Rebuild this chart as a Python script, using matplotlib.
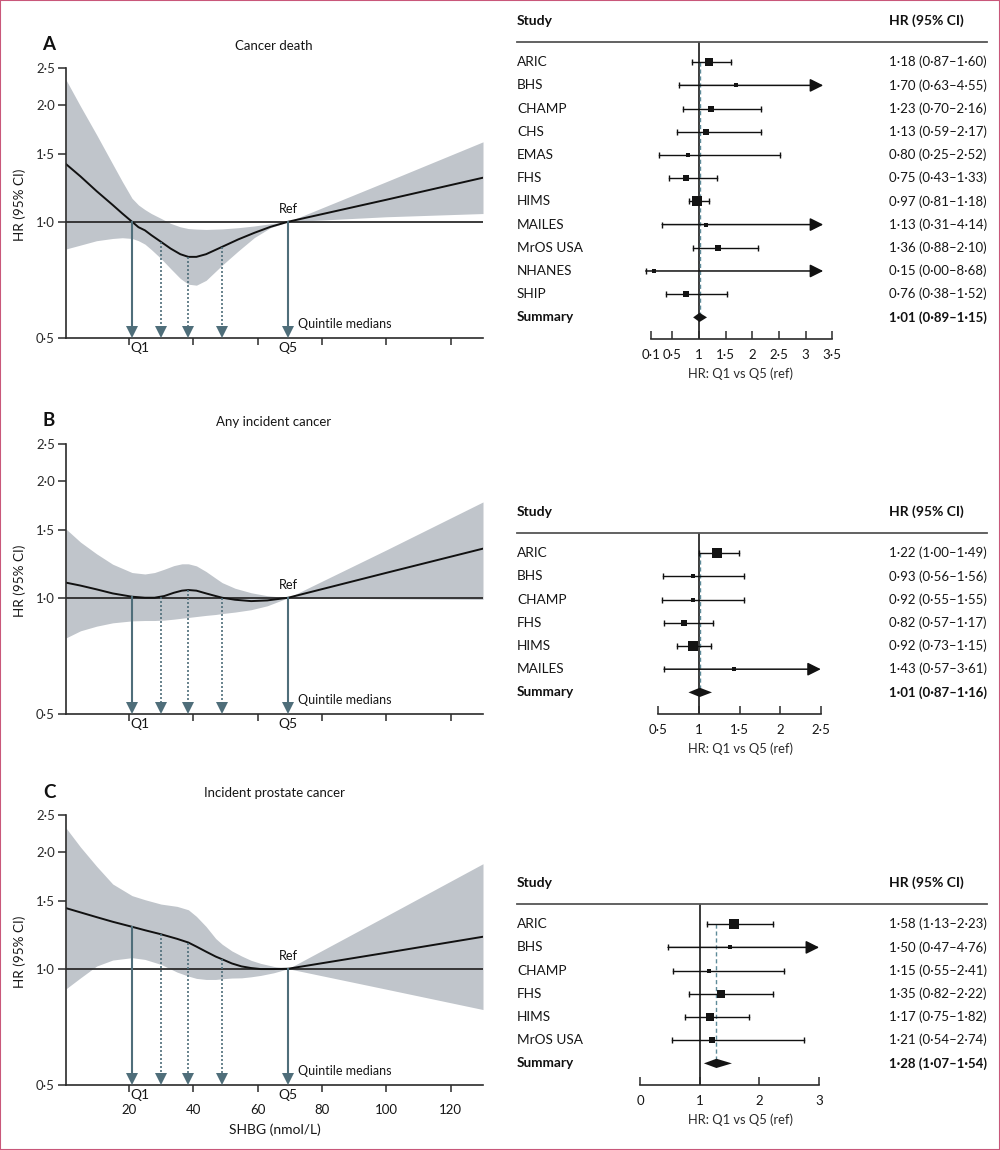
import matplotlib
matplotlib.use("Agg")
import matplotlib.pyplot as plt
from matplotlib.transforms import blended_transform_factory, offset_copy
from matplotlib.patches import Rectangle
import numpy as np

plt.rcParams['font.family'] = ['Lato', 'DejaVu Sans']

# ---- spline curves (SHBG vs HR) ----
shbg_a = [0.5, 5, 10, 15, 18, 21, 23, 25, 27, 30, 33, 36, 38.5, 41, 44, 49, 54, 59, 64, 69.5, 100, 130]
hr_a = [1.41, 1.31, 1.20, 1.105, 1.05, 1.0, 0.968, 0.95, 0.923, 0.887, 0.852, 0.824, 0.811, 0.811,
        0.824, 0.861, 0.90, 0.936, 0.97, 1.0, 1.14, 1.30]
hi_a = [2.33, 1.99, 1.68, 1.41, 1.27, 1.15, 1.105, 1.075, 1.05, 1.02, 0.99, 0.97, 0.96, 0.957,
        0.955, 0.958, 0.965, 0.975, 0.988, 1.0, 1.27, 1.61]
lo_a = [0.85, 0.87, 0.893, 0.905, 0.909, 0.905, 0.893, 0.875, 0.847, 0.803, 0.756, 0.713, 0.689,
        0.685, 0.705, 0.772, 0.84, 0.91, 0.965, 1.0, 1.03, 1.05]

shbg_b = [0.5, 5, 10, 15, 21, 25, 28, 31, 34, 36.5, 38.5, 41, 44, 47, 49, 53, 58, 63, 69.5, 100, 130]
hr_b = [1.094, 1.075, 1.051, 1.026, 1.006, 1.0, 1.0, 1.01, 1.03, 1.043, 1.047, 1.043, 1.026, 1.01,
        1.0, 0.988, 0.98, 0.984, 1.0, 1.16, 1.34]
hi_b = [1.506, 1.393, 1.299, 1.221, 1.162, 1.152, 1.162, 1.185, 1.211, 1.224, 1.224, 1.209, 1.169,
        1.123, 1.094, 1.058, 1.03, 1.012, 1.0, 1.33, 1.77]
lo_b = [0.787, 0.821, 0.844, 0.861, 0.871, 0.873, 0.873, 0.875, 0.88, 0.885, 0.889, 0.894, 0.90,
        0.905, 0.91, 0.918, 0.931, 0.953, 1.0, 0.994, 0.99]

shbg_c = [0.5, 5, 10, 15, 21, 25, 30, 35, 38.5, 41, 44, 47, 49, 52, 55, 58, 61, 65, 69.5, 100, 130]
hr_c = [1.435, 1.399, 1.36, 1.323, 1.284, 1.258, 1.228, 1.195, 1.169, 1.141, 1.107, 1.075, 1.058,
        1.032, 1.014, 1.004, 0.998, 0.998, 1.0, 1.10, 1.21]
hi_c = [2.314, 2.065, 1.842, 1.657, 1.546, 1.509, 1.47, 1.45, 1.421, 1.366, 1.286, 1.197, 1.157,
        1.112, 1.079, 1.051, 1.032, 1.014, 1.0, 1.37, 1.87]
lo_c = [0.887, 0.947, 1.016, 1.053, 1.068, 1.057, 1.026, 0.98, 0.957, 0.944, 0.938, 0.938, 0.942,
        0.946, 0.947, 0.953, 0.961, 0.976, 1.0, 0.885, 0.784]

quintiles = [21, 30, 38.5, 49, 69.5]

# ---- forest plots ----
study_a = ["ARIC", "BHS", "CHAMP", "CHS", "EMAS", "FHS", "HIMS", "MAILES", "MrOS USA", "NHANES", "SHIP"]
est_a = [1.18, 1.70, 1.23, 1.13, 0.80, 0.75, 0.97, 1.13, 1.36, 0.15, 0.76]
cil_a = [0.87, 0.63, 0.70, 0.59, 0.25, 0.43, 0.81, 0.31, 0.88, 0.00, 0.38]
ciu_a = [1.60, 4.55, 2.16, 2.17, 2.52, 1.33, 1.18, 4.14, 2.10, 8.68, 1.52]
box_a = [6.0, 2.4, 4.4, 3.8, 3.2, 4.4, 7.4, 2.6, 4.4, 2.2, 3.8]
summ_a = (1.01, 0.89, 1.15)

study_b = ["ARIC", "BHS", "CHAMP", "FHS", "HIMS", "MAILES"]
est_b = [1.22, 0.93, 0.92, 0.82, 0.92, 1.43]
cil_b = [1.00, 0.56, 0.55, 0.57, 0.73, 0.57]
ciu_b = [1.49, 1.56, 1.55, 1.17, 1.15, 3.61]
box_b = [7.6, 3.3, 3.3, 4.9, 6.8, 2.2]
summ_b = (1.01, 0.87, 1.16)

study_c = ["ARIC", "BHS", "CHAMP", "FHS", "HIMS", "MrOS USA"]
est_c = [1.58, 1.50, 1.15, 1.35, 1.17, 1.21]
cil_c = [1.13, 0.47, 0.55, 0.82, 0.75, 0.54]
ciu_c = [2.23, 4.76, 2.41, 2.22, 1.82, 2.74]
box_c = [7.6, 2.2, 3.3, 5.4, 6.0, 3.8]
summ_c = (1.28, 1.07, 1.54)

ticks_a = [0.1, 0.5, 1, 1.5, 2, 2.5, 3, 3.5]
ticks_b = [0.5, 1, 1.5, 2, 2.5]
ticks_c = [0, 1, 2, 3]

W, H = 1000, 1150
fig = plt.figure(figsize=(W / 100, H / 100), dpi=100)

FILL = '#c0c5cb'
ARROW = '#4f6e7a'
DARK = '#2b2b2b'
TXT = '#161616'


def dot(v, fmt):
    return format(v, fmt).replace('.', '\u00b7')


def px_axes(left, top, right, bottom):
    return fig.add_axes([left / W, 1 - bottom / H, (right - left) / W, (bottom - top) / H])


def spline_panel(top, letter, title, x, hr, lo, hi, show_x):
    ax = px_axes(66, top, 483, top + 270)
    ax.set_yscale('log')
    ax.fill_between(x, lo, hi, color=FILL, lw=0)
    ax.axhline(1.0, color=DARK, lw=1.3)
    ax.plot(x, hr, color='#111111', lw=1.4)
    ax.set_xlim(0.5, 130)
    ax.set_ylim(0.5, 2.5)
    ax.set_yticks([0.5, 1.0, 1.5, 2.0, 2.5])
    ax.set_yticklabels([dot(v, '.1f') for v in [0.5, 1.0, 1.5, 2.0, 2.5]])
    ax.yaxis.set_minor_locator(matplotlib.ticker.NullLocator())
    ax.set_xticks([20, 40, 60, 80, 100, 120])
    if show_x:
        ax.set_xticklabels(['20', '40', '60', '80', '100', '120'])
        ax.set_xlabel('SHBG (nmol/L)', fontsize=10, color=TXT, labelpad=5)
    else:
        ax.set_xticklabels([])
    ax.tick_params(axis='x', direction='out', length=5, width=1.1, color=DARK,
                   labelsize=9.5, pad=9, labelcolor=TXT)
    ax.tick_params(axis='y', direction='out', length=6, width=1.1, color=DARK,
                   labelsize=9.5, pad=2, labelcolor='#2a2a2a')
    for s in ['top', 'right']:
        ax.spines[s].set_visible(False)
    for s in ['left', 'bottom']:
        ax.spines[s].set_color(DARK)
        ax.spines[s].set_linewidth(1.2)

    # quintile arrows
    head = offset_copy(ax.transData, fig=fig, x=0, y=4.2, units='points')
    for i, q in enumerate(quintiles):
        ystart = np.interp(q, x, hr)
        solid = i in (0, len(quintiles) - 1)
        ax.plot([q, q], [ystart, 0.53], color=ARROW, lw=1.5 if solid else 1.2,
                ls='-' if solid else (0, (1.2, 1.2)), zorder=3)
        ax.plot([q], [0.5], marker='v', ms=9, color=ARROW, transform=head,
                clip_on=False, zorder=4, mew=0)
    ax.annotate('Q1', xy=(quintiles[0], 0.5), xytext=(-1, -3), textcoords='offset points',
                ha='left', va='top', fontsize=10, color=TXT, annotation_clip=False)
    ax.annotate('Q5', xy=(quintiles[-1], 0.5), xytext=(0, -3), textcoords='offset points',
                ha='center', va='top', fontsize=10, color=TXT, annotation_clip=False)
    ax.annotate('Ref', xy=(quintiles[-1], 1.0), xytext=(0, 5), textcoords='offset points',
                ha='center', va='bottom', fontsize=9.2, color=TXT)
    ax.annotate('Quintile medians', xy=(quintiles[-1], 0.5), xytext=(7, 6),
                textcoords='offset points', ha='left', va='bottom', fontsize=9,
                color=TXT)

    fig.text(49 / W, 1 - (top - 23) / H, letter, fontsize=13.5, fontweight='bold',
             ha='center', va='center', color='#111111')
    fig.text(274 / W, 1 - (top - 22) / H, title, fontsize=9.5,
             ha='center', va='center', color=TXT)
    fig.text(20 / W, 1 - (top + 137) / H, 'HR (95% CI)', rotation=90, fontsize=9.7,
             ha='center', va='center', color=TXT)
    return ax


def forest_panel(top, names, est, lo, hi, boxes, summ, ticks, xlim, arrow_max):
    n = len(names)
    row_h = 23.2
    ax = px_axes(640, top, 840, top + (n + 0.93 + 0.87) * row_h)
    ax.set_xlim(*xlim)
    ax.set_ylim(n + 0.93, -0.87)
    rows = np.arange(n)
    tr = blended_transform_factory(fig.transFigure, ax.transData)

    ax.axvline(1, color=DARK, lw=1.3, zorder=1)
    ax.plot([summ[0], summ[0]], [0, n], color='#5e8b99', lw=1.0,
            ls=(0, (3, 2)), zorder=1)

    for r, e, l, h, b in zip(rows, est, lo, hi, boxes):
        if h > arrow_max:
            ax.annotate('', xy=(arrow_max, r), xytext=(l, r),
                        arrowprops=dict(arrowstyle='-|>,head_length=0.8,head_width=0.4',
                                        lw=1.1, color='#111111', shrinkA=0, shrinkB=0,
                                        mutation_scale=10))
            ax.plot([l], [r], marker='|', ms=4, color='#111111', mew=1.0)
        else:
            ax.plot([l, h], [r, r], color='#111111', lw=1.0)
            ax.plot([l, h], [r, r], ls='none', marker='|', ms=4, color='#111111', mew=1.0)
        ax.plot([e], [r], marker='s', ms=b, color='#141414', mew=0, zorder=3)

    se, sl, sh = summ
    ax.fill([sl, se, sh, se], [n, n - 0.2, n, n + 0.2], color='#141414', lw=0, zorder=3)

    for r, name, e, l, h in zip(rows, names, est, lo, hi):
        ax.text(517 / W, r, name, transform=tr, ha='left', va='center', fontsize=9.8,
                color=TXT)
        ax.text(889 / W, r, f"{dot(e, '.2f')} ({dot(l, '.2f')}\u2013{dot(h, '.2f')})",
                transform=tr, ha='left', va='center', fontsize=9.5, color=TXT)
    ax.text(517 / W, n, 'Summary', transform=tr, ha='left', va='center', fontsize=9.8,
            fontweight='bold', color='#111111')
    ax.text(889 / W, n, f"{dot(se, '.2f')} ({dot(sl, '.2f')}\u2013{dot(sh, '.2f')})",
            transform=tr, ha='left', va='center', fontsize=9.5, fontweight='bold',
            color='#111111')
    ax.text(517 / W, -1.77, 'Study', transform=tr, ha='left', va='center', fontsize=10,
            fontweight='bold', color='#111111')
    ax.text(889 / W, -1.77, 'HR (95% CI)', transform=tr, ha='left', va='center',
            fontsize=10, fontweight='bold', color='#111111')
    ax.plot([517 / W, 987 / W], [-0.87, -0.87], transform=tr, color='#555555', lw=1.3,
            clip_on=False)

    for s in ['top', 'right', 'left']:
        ax.spines[s].set_visible(False)
    ax.spines['bottom'].set_bounds(ticks[0], ticks[-1])
    ax.spines['bottom'].set_color(DARK)
    ax.spines['bottom'].set_linewidth(1.2)
    ax.set_yticks([])
    ax.set_xticks(ticks)
    ax.set_xticklabels([dot(t, 'g') for t in ticks])
    ax.tick_params(axis='x', direction='in', length=6, width=1.1, color=DARK,
                   labelsize=9.5, pad=7, labelcolor=TXT)
    ax.set_xlabel('HR: Q1 vs Q5 (ref)', fontsize=9.3, color='#2a2a2a', labelpad=5)
    ax.patch.set_alpha(0)
    return ax


spline_panel(68, 'A', 'Cancer death', shbg_a, hr_a, lo_a, hi_a, False)
spline_panel(444, 'B', 'Any incident cancer', shbg_b, hr_b, lo_b, hi_b, False)
spline_panel(815, 'C', 'Incident prostate cancer', shbg_c, hr_c, lo_c, hi_c, True)

forest_panel(42, study_a, est_a, cil_a, ciu_a, box_a, summ_a, ticks_a,
             (1 - 59 / 53.3, 1 + 141 / 53.3), 3.33)
forest_panel(533, study_b, est_b, cil_b, ciu_b, box_b, summ_b, ticks_b,
             (1 - 59 / 81.2, 1 + 141 / 81.2), 2.5)
forest_panel(904, study_c, est_c, cil_c, ciu_c, box_c, summ_c, ticks_c,
             (1 - 59 / 60.0, 1 + 141 / 60.0), 3.0)

fig.patches.append(Rectangle((0, 0), 1, 1, transform=fig.transFigure, fill=False,
                             edgecolor='#c9577a', lw=1.5))

fig.savefig('out.png', dpi=100)
